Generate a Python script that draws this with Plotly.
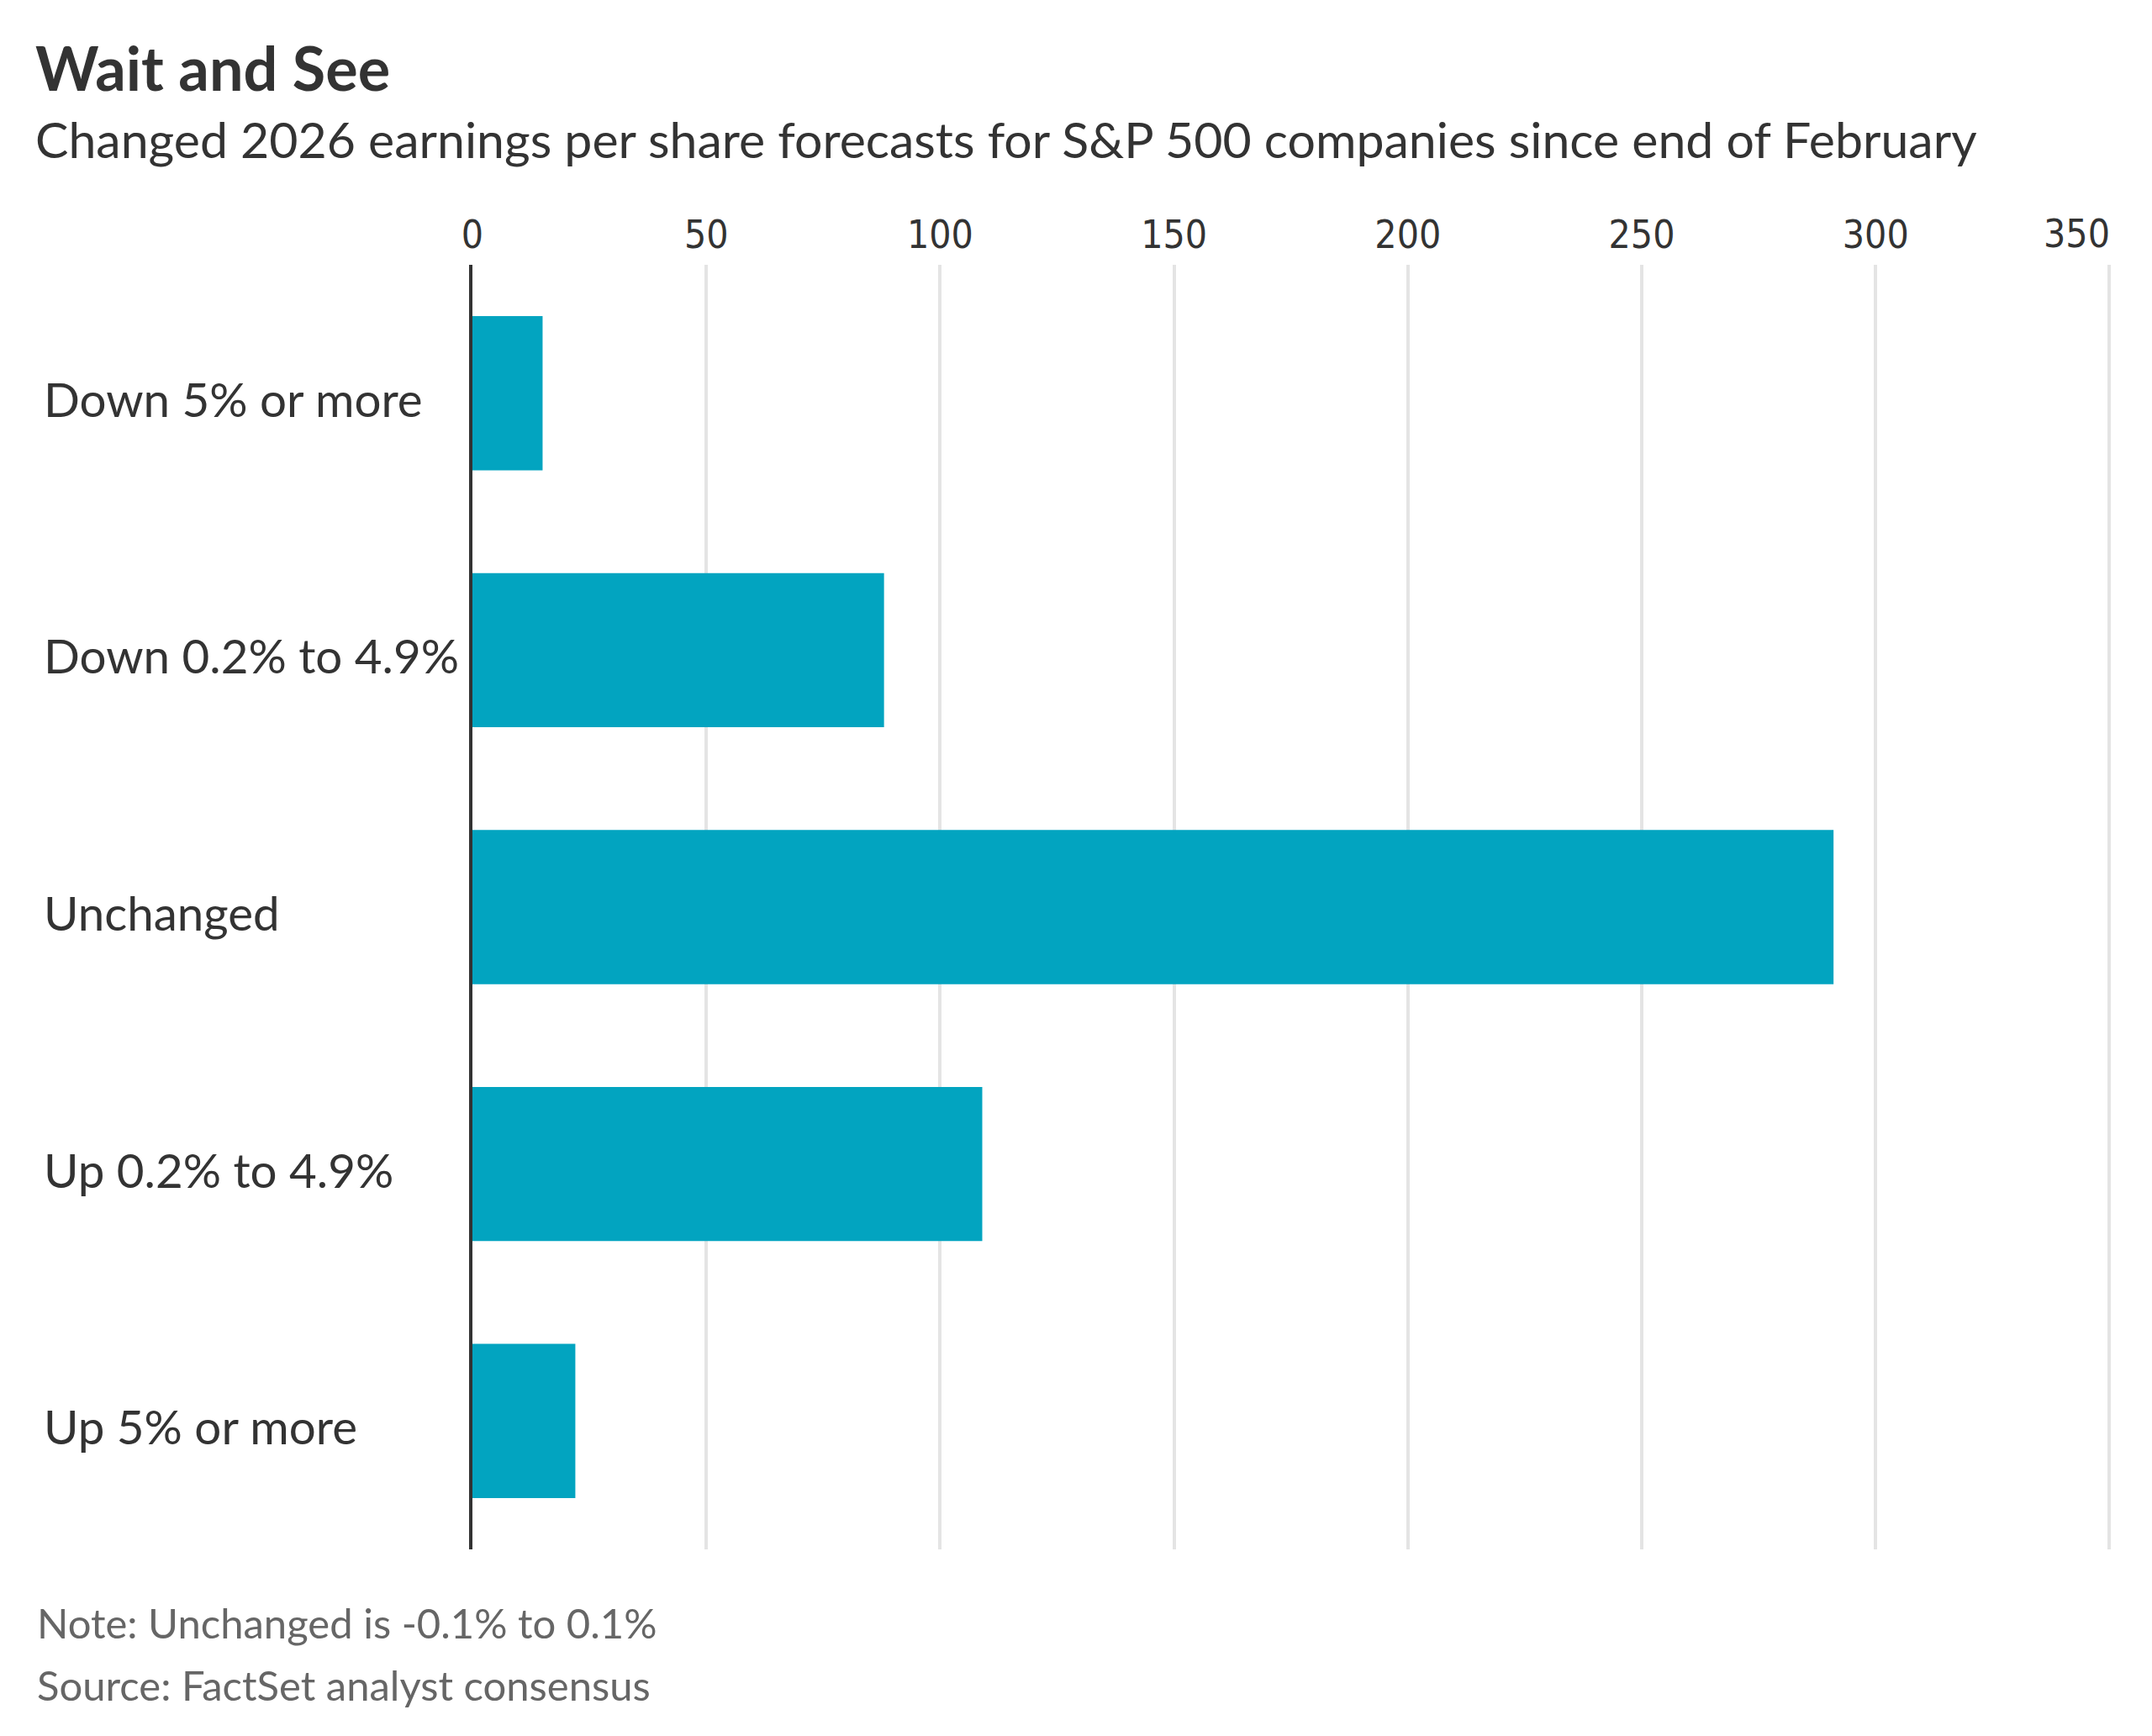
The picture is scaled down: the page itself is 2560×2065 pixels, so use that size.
import plotly.graph_objects as go

categories = ["Down 5% or more", "Down 0.2% to 4.9%", "Unchanged", "Up 0.2% to 4.9%", "Up 5% or more"]
counts = [15, 88, 291, 109, 22]
tick_values = [0, 50, 100, 150, 200, 250, 300, 350]
tick_labels = ["0", "50", "100", "150", "200", "250", "300", "350"]

title_text = "Wait and See"
subtitle_text = "Changed 2026 earnings per share forecasts for S&P 500 companies since end of February"
note_text = "Note: Unchanged is -0.1% to 0.1%"
source_text = "Source: FactSet analyst consensus"

# page body has an 8px margin; figure coordinates are shifted by it
OFF = 8
W, H = 2560 - 2 * OFF, 2065 - 2 * OFF
L, R, T, B = 562 - OFF, 2515 - OFF, 315 - OFF, 1843 - OFF
pw, ph = R - L, B - T

def px(x):
    return (x - OFF - L) / pw

def py(y):
    return (B - (y - OFF)) / ph

FONT = "Lato"
TICKFONT = "DejaVu Sans Condensed, Lato"
TICKSIZE = 46
DARK = "#333333"

fig = go.Figure(
    go.Bar(
        x=counts,
        y=categories,
        orientation="h",
        marker=dict(color="#02A4C0", line=dict(width=0)),
        hoverinfo="skip",
    )
)

fig.update_layout(
    width=W,
    height=H,
    autosize=False,
    margin=dict(l=L, r=W - R, t=T, b=H - B, pad=0, autoexpand=False),
    paper_bgcolor="white",
    plot_bgcolor="white",
    showlegend=False,
    bargap=0.4,
    font=dict(family=FONT, color=DARK),
)

# the last tick label is right-aligned to its gridline (drawn as an annotation below)
axis_ticktext = tick_labels[:-1] + [""]

fig.update_xaxes(
    side="top",
    range=[0, 351],
    tickmode="array",
    tickvals=tick_values,
    ticktext=axis_ticktext,
    tickfont=dict(family=TICKFONT, size=TICKSIZE, color=DARK),
    showgrid=True,
    gridcolor="#E4E4E4",
    gridwidth=4,
    zeroline=False,
    showline=False,
    ticks="",
    ticklabelstandoff=10,
    automargin=False,
    fixedrange=True,
)

fig.update_yaxes(
    categoryorder="array",
    categoryarray=categories,
    autorange="reversed",
    showticklabels=False,
    showgrid=False,
    zeroline=False,
    showline=True,
    linecolor=DARK,
    linewidth=4,
    ticks="",
    automargin=False,
    fixedrange=True,
)

annotations = []
for cat in categories:
    annotations.append(dict(
        x=px(50), xref="paper", y=cat, yref="y",
        text=cat, showarrow=False, xanchor="left", yanchor="middle",
        yshift=-6,
        font=dict(family=FONT, size=56.5, color=DARK),
    ))

annotations.append(dict(
    x=tick_values[-1], xref="x", y=1, yref="paper",
    text=tick_labels[-1], showarrow=False, xanchor="right", yanchor="bottom",
    yshift=9, xshift=2, borderpad=0,
    font=dict(family=TICKFONT, size=TICKSIZE, color=DARK),
))

annotations.append(dict(
    x=px(40), xref="paper", y=py(80), yref="paper",
    text="<b>" + title_text + "</b>", showarrow=False, xanchor="left", yanchor="middle",
    font=dict(family=FONT, size=72, color=DARK),
))
annotations.append(dict(
    x=px(40), xref="paper", y=py(165), yref="paper",
    text=subtitle_text, showarrow=False, xanchor="left", yanchor="middle",
    font=dict(family=FONT, size=59, color=DARK),
))
annotations.append(dict(
    x=px(42), xref="paper", y=py(1930), yref="paper",
    text=note_text, showarrow=False, xanchor="left", yanchor="middle",
    font=dict(family=FONT, size=49, color="#666666"),
))
annotations.append(dict(
    x=px(42), xref="paper", y=py(2004), yref="paper",
    text=source_text, showarrow=False, xanchor="left", yanchor="middle",
    font=dict(family=FONT, size=49, color="#666666"),
))

fig.update_layout(annotations=annotations)

fig.write_html("out.html", config={"displayModeBar": False})
